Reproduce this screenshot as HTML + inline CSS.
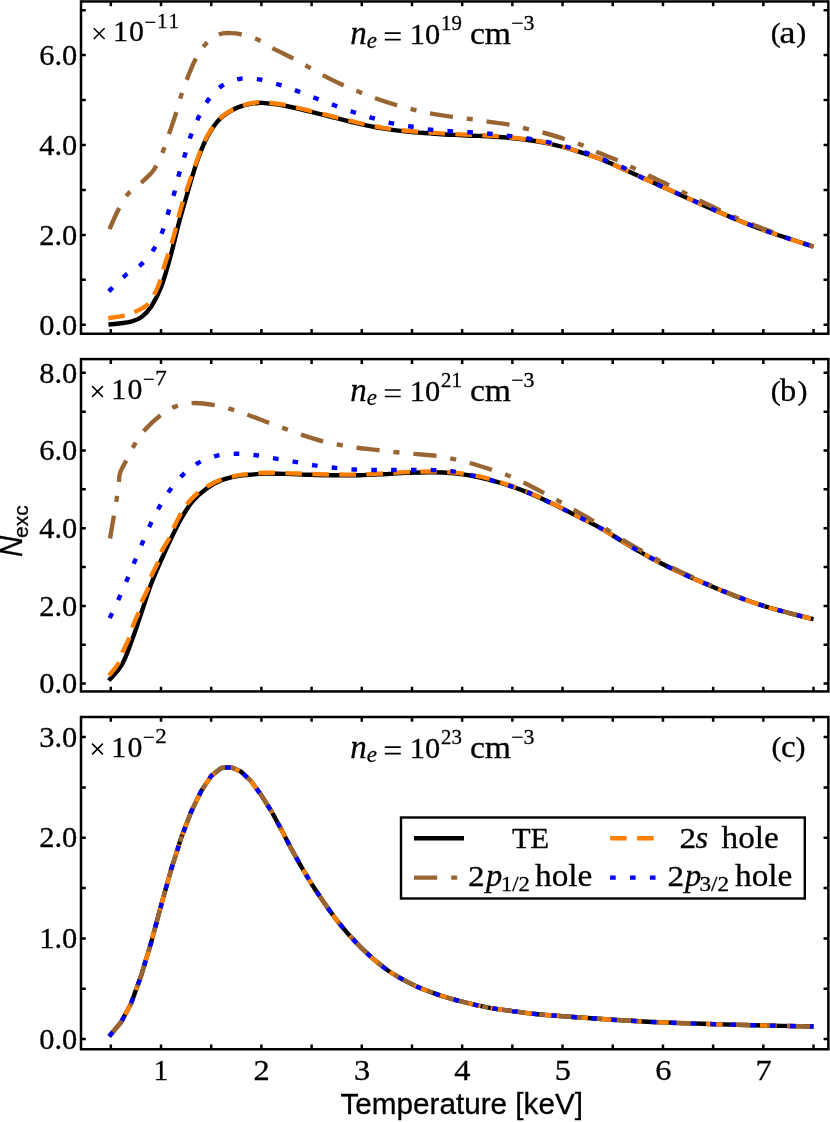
<!DOCTYPE html>
<html><head><meta charset="utf-8"><title>N_exc vs Temperature</title>
<style>html,body{margin:0;padding:0;background:#fff;overflow:hidden}svg{display:block;will-change:transform}text{font-family:"Liberation Serif",serif;fill:#000;stroke:#000;stroke-width:0.3px}.s{font-family:"Liberation Sans",sans-serif}.i{font-style:italic}</style></head><body>
<svg width="830" height="1122" viewBox="0 0 830 1122">
<rect x="0" y="0" width="830" height="1122" fill="#fff"/>
<g>
<path d="M108.41 324.48C110.47 324.28 117.05 323.78 120.80 323.30C124.55 322.82 127.50 322.62 130.90 321.60C134.30 320.58 137.80 319.72 141.20 317.20C144.60 314.68 147.93 311.65 151.30 306.50C154.67 301.35 158.15 294.85 161.40 286.30C164.65 277.75 167.90 265.68 170.80 255.20C173.70 244.72 176.22 233.10 178.80 223.40C181.38 213.70 183.85 205.52 186.30 197.00C188.75 188.48 191.18 179.63 193.50 172.30C195.82 164.97 197.79 159.10 200.20 153.00C202.61 146.90 204.73 141.32 207.95 135.70C211.17 130.08 215.01 123.80 219.50 119.30C223.99 114.80 229.75 111.27 234.90 108.70C240.05 106.13 246.22 104.87 250.40 103.90C254.58 102.93 257.65 103.03 260.00 102.90C262.35 102.77 260.55 102.67 264.50 103.10C268.45 103.53 276.08 104.08 283.70 105.50C291.32 106.92 301.77 109.58 310.20 111.60C318.63 113.62 326.27 115.60 334.30 117.60C342.33 119.60 350.37 121.80 358.40 123.60C366.43 125.40 374.47 127.07 382.50 128.40C390.53 129.73 398.57 130.77 406.60 131.60C414.63 132.43 422.78 132.85 430.70 133.40C438.62 133.95 446.18 134.48 454.10 134.90C462.02 135.32 470.17 135.50 478.20 135.90C486.23 136.30 494.27 136.65 502.30 137.30C510.33 137.95 518.37 138.70 526.40 139.80C534.43 140.90 542.47 142.13 550.50 143.90C558.53 145.67 566.57 148.00 574.60 150.40C582.63 152.80 592.80 156.18 598.70 158.30C604.60 160.42 603.70 160.30 610.00 163.10C616.30 165.90 627.67 171.12 636.50 175.10C645.33 179.08 654.17 183.03 663.00 187.00C671.83 190.97 680.67 194.93 689.50 198.90C698.33 202.87 707.17 206.95 716.00 210.80C724.83 214.65 733.67 218.47 742.50 222.00C751.33 225.53 760.17 228.87 769.00 232.00C777.83 235.13 788.08 238.37 795.50 240.80C802.92 243.23 810.50 245.63 813.50 246.60" fill="none" stroke="#000" stroke-width="4.40" stroke-linejoin="round"/>
<path d="M108.22 318.21C110.83 317.78 119.37 316.70 123.90 315.60C128.43 314.50 131.43 313.48 135.40 311.60C139.37 309.72 143.97 308.40 147.70 304.30C151.43 300.20 154.92 293.73 157.80 287.00C160.68 280.27 162.35 272.33 165.00 263.90C167.65 255.47 171.17 245.30 173.70 236.40C176.23 227.50 177.98 218.40 180.20 210.50C182.42 202.60 184.87 195.50 187.00 189.00C189.13 182.50 190.83 177.62 193.00 171.50C195.17 165.38 197.53 158.38 200.00 152.30C202.47 146.22 204.55 140.58 207.80 135.00C211.05 129.42 214.98 123.23 219.50 118.80C224.02 114.37 229.75 110.97 234.90 108.40C240.05 105.83 246.22 104.45 250.40 103.40C254.58 102.35 257.65 102.28 260.00 102.10C262.35 101.92 260.55 101.87 264.50 102.30C268.45 102.73 276.08 103.28 283.70 104.70C291.32 106.12 301.77 108.78 310.20 110.80C318.63 112.82 326.27 114.80 334.30 116.80C342.33 118.80 350.37 121.00 358.40 122.80C366.43 124.60 374.47 126.27 382.50 127.60C390.53 128.93 398.57 129.97 406.60 130.80C414.63 131.63 422.78 132.05 430.70 132.60C438.62 133.15 446.18 133.68 454.10 134.10C462.02 134.52 470.17 134.68 478.20 135.10C486.23 135.52 494.27 135.95 502.30 136.65C510.33 137.35 518.37 138.16 526.40 139.31C534.43 140.46 542.47 141.75 550.50 143.57C558.53 145.39 566.57 147.78 574.60 150.23C582.63 152.68 592.80 156.15 598.70 158.29C604.60 160.44 603.70 160.30 610.00 163.10C616.30 165.90 627.67 171.12 636.50 175.10C645.33 179.08 654.17 183.03 663.00 187.00C671.83 190.97 680.67 194.93 689.50 198.90C698.33 202.87 707.17 206.95 716.00 210.80C724.83 214.65 733.67 218.47 742.50 222.00C751.33 225.53 760.17 228.87 769.00 232.00C777.83 235.13 788.08 238.37 795.50 240.80C802.92 243.23 810.50 245.63 813.50 246.60" fill="none" stroke="#ff8000" stroke-width="4.40" stroke-linejoin="round" stroke-dasharray="16.6 10.4"/>
<path d="M109.46 229.13C111.02 225.76 115.69 214.79 118.80 208.90C121.91 203.01 124.35 198.18 128.10 193.80C131.85 189.42 137.47 186.02 141.30 182.60C145.13 179.18 148.67 175.98 151.10 173.30C153.53 170.62 153.88 170.27 155.90 166.50C157.92 162.73 161.02 156.10 163.20 150.70C165.38 145.30 166.85 140.40 169.00 134.10C171.15 127.80 174.10 119.28 176.10 112.90C178.10 106.52 179.23 101.32 181.00 95.80C182.77 90.28 184.30 85.85 186.70 79.80C189.10 73.75 192.33 65.35 195.40 59.50C198.47 53.65 201.23 48.87 205.10 44.70C208.97 40.53 214.27 36.43 218.60 34.50C222.93 32.57 227.25 33.10 231.10 33.10C234.95 33.10 237.28 33.43 241.70 34.50C246.12 35.57 252.40 37.18 257.60 39.50C262.80 41.82 266.93 45.22 272.90 48.40C278.87 51.58 287.67 55.62 293.40 58.60C299.13 61.58 302.48 63.58 307.30 66.30C312.12 69.02 316.38 71.77 322.30 74.90C328.22 78.03 336.70 82.28 342.80 85.10C348.90 87.92 353.48 89.60 358.90 91.80C364.32 94.00 369.03 96.08 375.30 98.30C381.57 100.52 390.15 103.22 396.50 105.10C402.85 106.98 407.78 108.22 413.40 109.60C419.02 110.98 423.62 112.18 430.20 113.40C436.78 114.62 446.30 115.97 452.90 116.90C459.50 117.83 464.18 118.25 469.80 119.00C475.42 119.75 480.07 120.47 486.60 121.40C493.13 122.33 502.45 123.38 509.00 124.60C515.55 125.82 520.27 127.38 525.90 128.70C531.53 130.02 536.37 130.78 542.80 132.50C549.23 134.22 558.20 136.98 564.50 139.00C570.80 141.02 575.30 142.47 580.60 144.60C585.90 146.73 590.15 149.20 596.30 151.80C602.45 154.40 611.33 157.52 617.50 160.20C623.67 162.88 628.15 165.33 633.30 167.90C638.45 170.47 642.48 172.77 648.40 175.60C654.32 178.43 662.70 181.98 668.80 184.90C674.90 187.82 679.80 190.45 685.00 193.10C690.20 195.75 694.17 197.93 700.00 200.80C705.83 203.67 713.88 207.43 720.00 210.30C726.12 213.17 731.18 215.57 736.70 218.00C742.22 220.43 747.18 222.57 753.10 224.90C759.02 227.23 766.45 229.82 772.20 232.00C777.95 234.18 780.72 235.57 787.60 238.00C794.48 240.43 809.18 245.17 813.50 246.60" fill="none" stroke="#996633" stroke-width="4.40" stroke-linejoin="round" stroke-dasharray="23.2 13.95 6 13.95"/>
<path d="M108.79 291.34C111.54 288.69 119.85 279.94 125.30 275.40C130.75 270.86 136.73 268.48 141.50 264.10C146.27 259.72 150.40 254.57 153.90 249.10C157.40 243.63 160.08 237.47 162.50 231.30C164.92 225.13 166.45 218.42 168.40 212.10C170.35 205.78 172.43 199.72 174.20 193.40C175.97 187.08 177.23 180.55 179.00 174.20C180.77 167.85 182.87 161.63 184.80 155.30C186.73 148.97 188.35 142.43 190.60 136.20C192.85 129.97 195.41 123.87 198.30 117.90C201.19 111.93 204.10 105.70 207.95 100.40C211.80 95.10 216.09 89.70 221.40 86.10C226.71 82.50 233.53 79.92 239.80 78.80C246.07 77.68 252.48 78.43 259.00 79.40C265.52 80.37 272.48 82.65 278.90 84.60C285.32 86.55 291.35 88.82 297.50 91.10C303.65 93.38 309.67 95.93 315.80 98.30C321.93 100.67 328.08 103.02 334.30 105.30C340.52 107.58 346.87 109.92 353.10 112.00C359.33 114.08 365.38 115.95 371.70 117.80C378.02 119.65 384.50 121.65 391.00 123.10C397.50 124.55 404.17 125.42 410.70 126.50C417.23 127.58 423.68 128.82 430.20 129.60C436.72 130.38 443.20 130.75 449.80 131.20C456.40 131.65 463.18 131.88 469.80 132.30C476.42 132.72 482.97 133.10 489.50 133.70C496.03 134.30 502.45 135.08 509.00 135.90C515.55 136.72 522.30 137.55 528.80 138.60C535.30 139.65 541.58 140.80 548.00 142.20C554.42 143.60 560.95 145.23 567.30 147.00C573.65 148.77 579.87 150.63 586.10 152.80C592.33 154.97 598.38 157.47 604.70 160.00C611.02 162.53 618.70 165.48 624.00 168.00C629.30 170.52 630.00 171.93 636.50 175.10C643.00 178.27 654.17 183.03 663.00 187.00C671.83 190.97 680.67 194.93 689.50 198.90C698.33 202.87 707.17 206.95 716.00 210.80C724.83 214.65 733.67 218.47 742.50 222.00C751.33 225.53 760.17 228.87 769.00 232.00C777.83 235.13 788.08 238.37 795.50 240.80C802.92 243.23 810.50 245.63 813.50 246.60" fill="none" stroke="#0000ff" stroke-width="4.40" stroke-linejoin="round" stroke-dasharray="5.6 14.24"/>
<path d="M108.79 680.64C110.99 677.95 118.06 671.44 122.00 664.50C125.94 657.56 129.02 648.08 132.40 639.00C135.78 629.92 139.12 619.33 142.30 610.00C145.48 600.67 148.23 591.58 151.50 583.00C154.77 574.42 158.60 565.98 161.90 558.50C165.20 551.02 168.12 544.72 171.30 538.10C174.48 531.48 177.47 524.92 181.00 518.80C184.53 512.68 188.33 506.38 192.50 501.40C196.67 496.42 201.18 492.43 206.00 488.90C210.82 485.37 215.93 482.38 221.40 480.20C226.87 478.02 234.03 476.70 238.80 475.80C243.57 474.90 245.72 475.17 250.00 474.80C254.28 474.43 258.48 473.75 264.50 473.60C270.52 473.45 278.48 473.70 286.10 473.90C293.72 474.10 302.17 474.57 310.20 474.80C318.23 475.03 326.27 475.22 334.30 475.30C342.33 475.38 350.37 475.47 358.40 475.30C366.43 475.13 374.47 474.70 382.50 474.30C390.53 473.90 398.57 473.23 406.60 472.90C414.63 472.57 422.78 472.22 430.70 472.30C438.62 472.38 446.18 472.62 454.10 473.40C462.02 474.18 470.17 475.32 478.20 477.00C486.23 478.68 494.27 481.02 502.30 483.50C510.33 485.98 518.37 488.68 526.40 491.90C534.43 495.12 542.47 498.98 550.50 502.80C558.53 506.62 566.57 510.75 574.60 514.80C582.63 518.85 592.47 523.73 598.70 527.10C604.93 530.47 605.70 531.22 612.00 535.00C618.30 538.78 628.00 544.92 636.50 549.80C645.00 554.68 654.17 559.80 663.00 564.30C671.83 568.80 680.67 572.82 689.50 576.80C698.33 580.78 707.17 584.53 716.00 588.20C724.83 591.87 733.67 595.58 742.50 598.80C751.33 602.02 760.17 604.85 769.00 607.50C777.83 610.15 788.08 612.75 795.50 614.70C802.92 616.65 810.50 618.45 813.50 619.20" fill="none" stroke="#000" stroke-width="4.40" stroke-linejoin="round"/>
<path d="M109.00 675.60C110.60 673.50 116.27 667.05 118.60 663.00C120.93 658.95 121.20 655.55 123.00 651.30C124.80 647.05 127.77 641.67 129.40 637.50C131.03 633.33 131.25 630.53 132.80 626.30C134.35 622.07 137.13 616.35 138.70 612.10C140.27 607.85 140.65 604.73 142.20 600.80C143.75 596.87 146.45 592.72 148.00 588.50C149.55 584.28 149.78 579.95 151.50 575.50C153.22 571.05 156.53 565.97 158.30 561.80C160.07 557.63 160.20 554.53 162.10 550.50C164.00 546.47 167.68 541.60 169.70 537.60C171.72 533.60 171.68 531.57 174.20 526.50C176.72 521.43 181.17 512.53 184.80 507.20C188.43 501.87 192.13 498.03 196.00 494.50C199.87 490.97 203.77 488.52 208.00 486.00C212.23 483.48 216.27 481.20 221.40 479.40C226.53 477.60 234.03 476.10 238.80 475.20C243.57 474.30 245.72 474.40 250.00 474.00C254.28 473.60 258.48 472.95 264.50 472.80C270.52 472.65 278.48 472.90 286.10 473.10C293.72 473.30 302.17 473.77 310.20 474.00C318.23 474.23 326.27 474.42 334.30 474.50C342.33 474.58 350.37 474.67 358.40 474.50C366.43 474.33 374.47 473.90 382.50 473.50C390.53 473.10 398.57 472.43 406.60 472.10C414.63 471.77 422.78 471.42 430.70 471.50C438.62 471.58 446.18 471.82 454.10 472.60C462.02 473.38 470.17 474.49 478.20 476.20C486.23 477.91 494.27 480.31 502.30 482.85C510.33 485.38 518.37 488.14 526.40 491.41C534.43 494.68 542.47 498.60 550.50 502.47C558.53 506.34 566.57 510.53 574.60 514.63C582.63 518.73 592.47 523.70 598.70 527.09C604.93 530.49 605.70 531.22 612.00 535.00C618.30 538.78 628.00 544.92 636.50 549.80C645.00 554.68 654.17 559.80 663.00 564.30C671.83 568.80 680.67 572.82 689.50 576.80C698.33 580.78 707.17 584.53 716.00 588.20C724.83 591.87 733.67 595.58 742.50 598.80C751.33 602.02 760.17 604.85 769.00 607.50C777.83 610.15 788.08 612.75 795.50 614.70C802.92 616.65 810.50 618.45 813.50 619.20" fill="none" stroke="#ff8000" stroke-width="4.40" stroke-linejoin="round" stroke-dasharray="16.6 10.4"/>
<path d="M110.00 538.50C110.65 534.73 112.77 522.65 113.90 515.90C115.03 509.15 115.97 503.78 116.80 498.00C117.63 492.22 118.33 485.45 118.90 481.20C119.47 476.95 119.02 475.87 120.20 472.50C121.38 469.13 123.65 465.55 126.00 461.00C128.35 456.45 131.25 450.28 134.30 445.20C137.35 440.12 139.90 435.52 144.30 430.50C148.70 425.48 155.55 419.08 160.70 415.10C165.85 411.12 169.90 408.60 175.20 406.60C180.50 404.60 185.92 403.35 192.50 403.10C199.08 402.85 208.20 404.07 214.70 405.10C221.20 406.13 226.03 407.70 231.50 409.30C236.97 410.90 241.40 412.50 247.50 414.70C253.60 416.90 261.87 420.18 268.10 422.50C274.33 424.82 279.40 426.58 284.90 428.60C290.40 430.62 294.75 432.48 301.10 434.60C307.45 436.72 316.58 439.58 323.00 441.30C329.42 443.02 333.98 443.82 339.60 444.90C345.22 445.98 350.03 446.92 356.70 447.80C363.37 448.68 373.00 449.47 379.60 450.20C386.20 450.93 390.58 451.58 396.30 452.20C402.02 452.82 407.17 453.28 413.90 453.90C420.63 454.52 430.20 455.07 436.70 455.90C443.20 456.73 447.38 457.72 452.90 458.90C458.42 460.08 463.30 461.18 469.80 463.00C476.30 464.82 485.60 467.75 491.90 469.80C498.20 471.85 502.33 473.18 507.60 475.30C512.87 477.42 517.55 479.60 523.50 482.50C529.45 485.40 537.40 489.60 543.30 492.70C549.20 495.80 553.77 498.22 558.90 501.10C564.03 503.98 568.35 506.67 574.10 510.00C579.85 513.33 587.78 517.77 593.40 521.10C599.02 524.43 602.98 526.92 607.80 530.00C612.62 533.08 617.52 536.63 622.30 539.60C627.08 542.57 629.72 543.93 636.50 547.80C643.28 551.67 654.17 558.13 663.00 562.80C671.83 567.47 680.67 571.67 689.50 575.80C698.33 579.93 707.17 583.83 716.00 587.60C724.83 591.37 733.67 595.12 742.50 598.40C751.33 601.68 760.17 604.58 769.00 607.30C777.83 610.02 788.08 612.72 795.50 614.70C802.92 616.68 810.50 618.45 813.50 619.20" fill="none" stroke="#996633" stroke-width="4.40" stroke-linejoin="round" stroke-dasharray="23.2 14 6 14"/>
<path d="M109.72 618.14C111.33 614.68 116.47 603.89 119.40 597.40C122.33 590.91 124.73 585.25 127.30 579.20C129.87 573.15 132.28 567.15 134.80 561.10C137.32 555.05 139.78 549.05 142.40 542.90C145.02 536.75 147.67 530.22 150.50 524.20C153.33 518.18 156.18 512.45 159.40 506.80C162.62 501.15 165.88 495.63 169.80 490.30C173.72 484.97 178.15 479.37 182.90 474.80C187.65 470.23 192.68 466.07 198.30 462.90C203.92 459.73 210.23 457.32 216.60 455.80C222.97 454.28 229.92 453.90 236.50 453.80C243.08 453.70 249.55 454.38 256.10 455.20C262.65 456.02 269.30 457.60 275.80 458.70C282.30 459.80 288.63 460.68 295.10 461.80C301.57 462.92 308.07 464.40 314.60 465.40C321.13 466.40 327.72 467.12 334.30 467.80C340.88 468.48 347.50 469.13 354.10 469.50C360.70 469.87 367.32 469.92 373.90 470.00C380.48 470.08 387.02 470.00 393.60 470.00C400.18 470.00 406.80 469.98 413.40 470.00C420.00 470.02 426.62 469.87 433.20 470.10C439.78 470.33 445.40 470.25 452.90 471.40C460.40 472.55 469.97 474.98 478.20 477.00C486.43 479.02 494.27 481.02 502.30 483.50C510.33 485.98 518.37 488.68 526.40 491.90C534.43 495.12 542.47 498.98 550.50 502.80C558.53 506.62 566.57 510.75 574.60 514.80C582.63 518.85 592.47 523.73 598.70 527.10C604.93 530.47 605.70 531.22 612.00 535.00C618.30 538.78 628.00 544.92 636.50 549.80C645.00 554.68 654.17 559.80 663.00 564.30C671.83 568.80 680.67 572.82 689.50 576.80C698.33 580.78 707.17 584.53 716.00 588.20C724.83 591.87 733.67 595.58 742.50 598.80C751.33 602.02 760.17 604.85 769.00 607.50C777.83 610.15 788.08 612.75 795.50 614.70C802.92 616.65 810.50 618.45 813.50 619.20" fill="none" stroke="#0000ff" stroke-width="4.40" stroke-linejoin="round" stroke-dasharray="5.6 14.23"/>
<path d="M109.19 1036.31L120.84 1022.50L130.88 1004.00L140.92 976.30L150.96 943.20L161.00 905.80L171.04 869.90L181.08 838.10L191.12 811.90L201.16 791.10L211.19 775.90L221.23 768.00L231.27 767.30L241.31 771.80L251.35 781.50L261.39 795.30L271.43 811.30L281.47 829.80L291.51 849.20L301.55 867.10L311.59 884.00C317.44 892.83 328.32 909.37 336.68 920.10C345.05 930.83 353.41 940.13 361.78 948.40C370.15 956.67 378.51 963.73 386.88 969.70C395.24 975.67 403.61 980.10 411.98 984.20C420.34 988.30 428.71 991.38 437.07 994.30C445.44 997.22 453.80 999.52 462.17 1001.70C470.54 1003.88 478.90 1005.83 487.27 1007.40C495.63 1008.97 504.00 1009.97 512.37 1011.10C520.73 1012.23 529.10 1013.35 537.46 1014.20C545.83 1015.05 550.01 1015.28 562.56 1016.20C575.11 1017.12 596.02 1018.67 612.75 1019.70C629.49 1020.73 646.22 1021.67 662.95 1022.40C679.68 1023.13 696.41 1023.58 713.14 1024.10C729.88 1024.62 746.61 1025.10 763.34 1025.50C780.07 1025.90 805.17 1026.33 813.53 1026.50" fill="none" stroke="#000" stroke-width="4.40" stroke-linejoin="round"/>
<path d="M109.19 1036.31L120.84 1022.50L130.88 1004.00L140.92 976.30L150.96 943.20L161.00 905.80L171.04 869.90L181.08 838.10L191.12 811.90L201.16 791.10L211.19 775.90L221.23 768.00L231.27 767.30L241.31 771.80L251.35 781.50L261.39 795.30L271.43 811.30L281.47 829.80L291.51 849.20L301.55 867.10L311.59 884.00C317.44 892.83 328.32 909.37 336.68 920.10C345.05 930.83 353.41 940.13 361.78 948.40C370.15 956.67 378.51 963.73 386.88 969.70C395.24 975.67 403.61 980.10 411.98 984.20C420.34 988.30 428.71 991.38 437.07 994.30C445.44 997.22 453.80 999.52 462.17 1001.70C470.54 1003.88 478.90 1005.83 487.27 1007.40C495.63 1008.97 504.00 1009.97 512.37 1011.10C520.73 1012.23 529.10 1013.35 537.46 1014.20C545.83 1015.05 550.01 1015.28 562.56 1016.20C575.11 1017.12 596.02 1018.67 612.75 1019.70C629.49 1020.73 646.22 1021.67 662.95 1022.40C679.68 1023.13 696.41 1023.58 713.14 1024.10C729.88 1024.62 746.61 1025.10 763.34 1025.50C780.07 1025.90 805.17 1026.33 813.53 1026.50" fill="none" stroke="#ff8000" stroke-width="4.40" stroke-linejoin="round" stroke-dasharray="16.6 10.4"/>
<path d="M109.19 1036.31L120.84 1022.50L130.88 1004.00L140.92 976.30L150.96 943.20L161.00 905.80L171.04 869.90L181.08 838.10L191.12 811.90L201.16 791.10L211.19 775.90L221.23 768.00L231.27 767.30L241.31 771.80L251.35 781.50L261.39 795.30L271.43 811.30L281.47 829.80L291.51 849.20L301.55 867.10L311.59 884.00C317.44 892.83 328.32 909.37 336.68 920.10C345.05 930.83 353.41 940.13 361.78 948.40C370.15 956.67 378.51 963.73 386.88 969.70C395.24 975.67 403.61 980.10 411.98 984.20C420.34 988.30 428.71 991.38 437.07 994.30C445.44 997.22 453.80 999.52 462.17 1001.70C470.54 1003.88 478.90 1005.83 487.27 1007.40C495.63 1008.97 504.00 1009.97 512.37 1011.10C520.73 1012.23 529.10 1013.35 537.46 1014.20C545.83 1015.05 550.01 1015.28 562.56 1016.20C575.11 1017.12 596.02 1018.67 612.75 1019.70C629.49 1020.73 646.22 1021.67 662.95 1022.40C679.68 1023.13 696.41 1023.58 713.14 1024.10C729.88 1024.62 746.61 1025.10 763.34 1025.50C780.07 1025.90 805.17 1026.33 813.53 1026.50" fill="none" stroke="#996633" stroke-width="4.40" stroke-linejoin="round" stroke-dasharray="23.2 14 6 14"/>
<path d="M109.19 1036.31L120.84 1022.50L130.88 1004.00L140.92 976.30L150.96 943.20L161.00 905.80L171.04 869.90L181.08 838.10L191.12 811.90L201.16 791.10L211.19 775.90L221.23 768.00L231.27 767.30L241.31 771.80L251.35 781.50L261.39 795.30L271.43 811.30L281.47 829.80L291.51 849.20L301.55 867.10L311.59 884.00C317.44 892.83 328.32 909.37 336.68 920.10C345.05 930.83 353.41 940.13 361.78 948.40C370.15 956.67 378.51 963.73 386.88 969.70C395.24 975.67 403.61 980.10 411.98 984.20C420.34 988.30 428.71 991.38 437.07 994.30C445.44 997.22 453.80 999.52 462.17 1001.70C470.54 1003.88 478.90 1005.83 487.27 1007.40C495.63 1008.97 504.00 1009.97 512.37 1011.10C520.73 1012.23 529.10 1013.35 537.46 1014.20C545.83 1015.05 550.01 1015.28 562.56 1016.20C575.11 1017.12 596.02 1018.67 612.75 1019.70C629.49 1020.73 646.22 1021.67 662.95 1022.40C679.68 1023.13 696.41 1023.58 713.14 1024.10C729.88 1024.62 746.61 1025.10 763.34 1025.50C780.07 1025.90 805.17 1026.33 813.53 1026.50" fill="none" stroke="#0000ff" stroke-width="4.40" stroke-linejoin="round" stroke-dasharray="5.6 14.3"/>
</g>
<g stroke="#000" stroke-width="2.50" fill="none">
<rect x="81.00" y="1.45" width="747.35" height="332.30"/>
<path d="M110.81 333.75v-4.80M110.81 1.45v4.80M161.00 333.75v-4.80M161.00 1.45v4.80M211.19 333.75v-4.80M211.19 1.45v4.80M261.39 333.75v-4.80M261.39 1.45v4.80M311.59 333.75v-4.80M311.59 1.45v4.80M361.78 333.75v-4.80M361.78 1.45v4.80M411.98 333.75v-4.80M411.98 1.45v4.80M462.17 333.75v-4.80M462.17 1.45v4.80M512.37 333.75v-4.80M512.37 1.45v4.80M562.56 333.75v-4.80M562.56 1.45v4.80M612.75 333.75v-4.80M612.75 1.45v4.80M662.95 333.75v-4.80M662.95 1.45v4.80M713.14 333.75v-4.80M713.14 1.45v4.80M763.34 333.75v-4.80M763.34 1.45v4.80M813.53 333.75v-4.80M813.53 1.45v4.80M81.00 324.80h4.80M828.35 324.80h-4.80M81.00 234.90h4.80M828.35 234.90h-4.80M81.00 145.00h4.80M828.35 145.00h-4.80M81.00 55.10h4.80M828.35 55.10h-4.80M81.00 279.85h4.80M828.35 279.85h-4.80M81.00 189.95h4.80M828.35 189.95h-4.80M81.00 100.05h4.80M828.35 100.05h-4.80M81.00 10.15h4.80M828.35 10.15h-4.80"/>
<rect x="81.00" y="359.10" width="747.35" height="332.35"/>
<path d="M110.81 691.45v-4.80M110.81 359.10v4.80M161.00 691.45v-4.80M161.00 359.10v4.80M211.19 691.45v-4.80M211.19 359.10v4.80M261.39 691.45v-4.80M261.39 359.10v4.80M311.59 691.45v-4.80M311.59 359.10v4.80M361.78 691.45v-4.80M361.78 359.10v4.80M411.98 691.45v-4.80M411.98 359.10v4.80M462.17 691.45v-4.80M462.17 359.10v4.80M512.37 691.45v-4.80M512.37 359.10v4.80M562.56 691.45v-4.80M562.56 359.10v4.80M612.75 691.45v-4.80M612.75 359.10v4.80M662.95 691.45v-4.80M662.95 359.10v4.80M713.14 691.45v-4.80M713.14 359.10v4.80M763.34 691.45v-4.80M763.34 359.10v4.80M813.53 691.45v-4.80M813.53 359.10v4.80M81.00 683.60h4.80M828.35 683.60h-4.80M81.00 605.90h4.80M828.35 605.90h-4.80M81.00 528.20h4.80M828.35 528.20h-4.80M81.00 450.50h4.80M828.35 450.50h-4.80M81.00 372.80h4.80M828.35 372.80h-4.80M81.00 644.75h4.80M828.35 644.75h-4.80M81.00 567.05h4.80M828.35 567.05h-4.80M81.00 489.35h4.80M828.35 489.35h-4.80M81.00 411.65h4.80M828.35 411.65h-4.80"/>
<rect x="81.00" y="717.00" width="747.35" height="332.25"/>
<path d="M110.81 1049.25v-4.80M110.81 717.00v4.80M161.00 1049.25v-4.80M161.00 717.00v4.80M211.19 1049.25v-4.80M211.19 717.00v4.80M261.39 1049.25v-4.80M261.39 717.00v4.80M311.59 1049.25v-4.80M311.59 717.00v4.80M361.78 1049.25v-4.80M361.78 717.00v4.80M411.98 1049.25v-4.80M411.98 717.00v4.80M462.17 1049.25v-4.80M462.17 717.00v4.80M512.37 1049.25v-4.80M512.37 717.00v4.80M562.56 1049.25v-4.80M562.56 717.00v4.80M612.75 1049.25v-4.80M612.75 717.00v4.80M662.95 1049.25v-4.80M662.95 717.00v4.80M713.14 1049.25v-4.80M713.14 717.00v4.80M763.34 1049.25v-4.80M763.34 717.00v4.80M813.53 1049.25v-4.80M813.53 717.00v4.80M81.00 1039.10h4.80M828.35 1039.10h-4.80M81.00 938.42h4.80M828.35 938.42h-4.80M81.00 837.74h4.80M828.35 837.74h-4.80M81.00 737.06h4.80M828.35 737.06h-4.80M81.00 988.76h4.80M828.35 988.76h-4.80M81.00 888.08h4.80M828.35 888.08h-4.80M81.00 787.40h4.80M828.35 787.40h-4.80"/>
</g>
<g font-size="30.0" text-anchor="end">
<text x="77.3" y="334.50" textLength="38.0" lengthAdjust="spacingAndGlyphs">0.0</text>
<text x="77.3" y="244.60" textLength="38.0" lengthAdjust="spacingAndGlyphs">2.0</text>
<text x="77.3" y="154.70" textLength="38.0" lengthAdjust="spacingAndGlyphs">4.0</text>
<text x="77.3" y="64.80" textLength="38.0" lengthAdjust="spacingAndGlyphs">6.0</text>
<text x="77.3" y="693.30" textLength="38.0" lengthAdjust="spacingAndGlyphs">0.0</text>
<text x="77.3" y="615.60" textLength="38.0" lengthAdjust="spacingAndGlyphs">2.0</text>
<text x="77.3" y="537.90" textLength="38.0" lengthAdjust="spacingAndGlyphs">4.0</text>
<text x="77.3" y="460.20" textLength="38.0" lengthAdjust="spacingAndGlyphs">6.0</text>
<text x="77.3" y="382.50" textLength="38.0" lengthAdjust="spacingAndGlyphs">8.0</text>
<text x="77.3" y="1048.80" textLength="38.0" lengthAdjust="spacingAndGlyphs">0.0</text>
<text x="77.3" y="948.12" textLength="38.0" lengthAdjust="spacingAndGlyphs">1.0</text>
<text x="77.3" y="847.44" textLength="38.0" lengthAdjust="spacingAndGlyphs">2.0</text>
<text x="77.3" y="746.76" textLength="38.0" lengthAdjust="spacingAndGlyphs">3.0</text>
</g>
<g font-size="29.3" text-anchor="middle">
<text x="160.80" y="1079.7">1</text>
<text x="261.69" y="1079.7" textLength="16.2" lengthAdjust="spacingAndGlyphs">2</text>
<text x="362.08" y="1079.7" textLength="16.2" lengthAdjust="spacingAndGlyphs">3</text>
<text x="462.47" y="1079.7" textLength="16.2" lengthAdjust="spacingAndGlyphs">4</text>
<text x="562.86" y="1079.7" textLength="16.2" lengthAdjust="spacingAndGlyphs">5</text>
<text x="663.25" y="1079.7" textLength="16.2" lengthAdjust="spacingAndGlyphs">6</text>
<text x="763.64" y="1079.7" textLength="16.2" lengthAdjust="spacingAndGlyphs">7</text>
</g>
<text class="s" font-size="29.7" text-anchor="middle" x="461.7" y="1114.1">Temperature [keV]</text>
<g transform="translate(21.9 532) rotate(-90)"><text class="s i" font-size="30.9" transform="translate(-25.0 0) scale(0.95 1)" x="0" y="0">N</text><text class="s" font-size="21" x="-6.0" y="5.7">exc</text></g>
<g><path d="M93.80 28.20l10.8 10.8M93.80 39.00l10.8 -10.8" stroke="#000" stroke-width="1.5" fill="none"/><text font-size="29.80" x="112.90" y="41.10">1</text><text font-size="29.80" x="129.10" y="41.10">0</text><text font-size="20.50" x="144.60" y="29.30">−</text><text font-size="21.00" x="157.00" y="28.10">1</text><text font-size="21.00" x="168.40" y="28.10">1</text></g>
<g><path d="M92.10 386.10l10.8 10.8M92.10 396.90l10.8 -10.8" stroke="#000" stroke-width="1.5" fill="none"/><text font-size="29.80" x="111.20" y="399.00">1</text><text font-size="29.80" x="127.40" y="399.00">0</text><text font-size="20.50" x="142.90" y="386.30">−</text><text font-size="21.00" x="155.30" y="385.10" textLength="11.50" lengthAdjust="spacingAndGlyphs">7</text></g>
<g><path d="M92.10 743.60l10.8 10.8M92.10 754.40l10.8 -10.8" stroke="#000" stroke-width="1.5" fill="none"/><text font-size="29.80" x="111.20" y="756.50">1</text><text font-size="29.80" x="127.40" y="756.50">0</text><text font-size="20.50" x="142.90" y="743.80">−</text><text font-size="21.00" x="155.30" y="742.60" textLength="11.50" lengthAdjust="spacingAndGlyphs">2</text></g>
<g><text font-size="33.00" x="350.20" y="43.70" class="i">n</text><text font-size="23.00" x="366.80" y="48.30" class="i">e</text><path d="M384.8 33.20h15.9M384.8 39.70h15.9" stroke="#000" stroke-width="1.7" fill="none"/><text font-size="29.80" x="409.80" y="43.70" textLength="30.40" lengthAdjust="spacingAndGlyphs">10</text><text font-size="20.80" x="441.00" y="29.90">19</text><text font-size="32.50" x="469.90" y="43.70" textLength="41.20" lengthAdjust="spacingAndGlyphs">cm</text><text font-size="20.80" x="511.20" y="29.90" textLength="23.20" lengthAdjust="spacingAndGlyphs">−3</text></g>
<g><text font-size="33.00" x="350.20" y="400.50" class="i">n</text><text font-size="23.00" x="366.80" y="405.10" class="i">e</text><path d="M384.8 390.00h15.9M384.8 396.50h15.9" stroke="#000" stroke-width="1.7" fill="none"/><text font-size="29.80" x="409.80" y="400.50" textLength="30.40" lengthAdjust="spacingAndGlyphs">10</text><text font-size="20.80" x="441.00" y="386.70">21</text><text font-size="32.50" x="469.90" y="400.50" textLength="41.20" lengthAdjust="spacingAndGlyphs">cm</text><text font-size="20.80" x="511.20" y="386.70" textLength="23.20" lengthAdjust="spacingAndGlyphs">−3</text></g>
<g><text font-size="33.00" x="350.20" y="757.70" class="i">n</text><text font-size="23.00" x="366.80" y="762.30" class="i">e</text><path d="M384.8 747.20h15.9M384.8 753.70h15.9" stroke="#000" stroke-width="1.7" fill="none"/><text font-size="29.80" x="409.80" y="757.70" textLength="30.40" lengthAdjust="spacingAndGlyphs">10</text><text font-size="20.80" x="441.00" y="743.90">23</text><text font-size="32.50" x="469.90" y="757.70" textLength="41.20" lengthAdjust="spacingAndGlyphs">cm</text><text font-size="20.80" x="511.20" y="743.90" textLength="23.20" lengthAdjust="spacingAndGlyphs">−3</text></g>
<text font-size="26.50" x="770.70" y="42.00" textLength="10.00" lengthAdjust="spacingAndGlyphs">(</text><text font-size="32.50" x="779.60" y="42.80" textLength="16.00" lengthAdjust="spacingAndGlyphs">a</text><text font-size="26.50" x="796.20" y="42.00" textLength="10.00" lengthAdjust="spacingAndGlyphs">)</text>
<text font-size="26.50" x="770.80" y="399.70" textLength="10.00" lengthAdjust="spacingAndGlyphs">(</text><text font-size="32.50" x="779.90" y="400.50" textLength="16.20" lengthAdjust="spacingAndGlyphs">b</text><text font-size="26.50" x="797.50" y="399.70" textLength="10.00" lengthAdjust="spacingAndGlyphs">)</text>
<text font-size="26.50" x="771.60" y="756.30" textLength="10.00" lengthAdjust="spacingAndGlyphs">(</text><text font-size="32.50" x="780.90" y="757.10" textLength="14.60" lengthAdjust="spacingAndGlyphs">c</text><text font-size="26.50" x="795.40" y="756.30" textLength="10.00" lengthAdjust="spacingAndGlyphs">)</text>
<rect x="401.0" y="817.5" width="403.8" height="81.0" fill="#fff" stroke="#000" stroke-width="2.4"/>
<g fill="none" stroke-width="4.4">
<path d="M414 838.3h50" stroke="#000"/>
<path d="M610.1 838.3h50" stroke="#ff8000" stroke-dasharray="16.6 10.4"/>
<path d="M414 877.6h50" stroke="#996633" stroke-dasharray="23.2 14 6 14"/>
<path d="M610.1 877.6h50" stroke="#0000ff" stroke-dasharray="5.6 14.3"/>
</g>
<text font-size="29.50" x="511.90" y="847.70" textLength="37.20" lengthAdjust="spacingAndGlyphs">TE</text>
<text font-size="29.80" x="679.60" y="847.70" textLength="16.60" lengthAdjust="spacingAndGlyphs">2</text>
<text font-size="32.50" x="695.60" y="847.70" class="i">s</text>
<text font-size="32.50" x="721.50" y="847.70" textLength="57.40" lengthAdjust="spacingAndGlyphs">hole</text>
<text font-size="29.80" x="468.00" y="886.10" textLength="16.60" lengthAdjust="spacingAndGlyphs">2</text>
<text font-size="32.50" x="485.90" y="886.10" class="i">p</text>
<text font-size="20.80" x="500.90" y="890.60" textLength="29.00" lengthAdjust="spacingAndGlyphs">1/2</text>
<text font-size="32.50" x="535.00" y="886.10" textLength="57.40" lengthAdjust="spacingAndGlyphs">hole</text>
<text font-size="29.80" x="667.40" y="886.10" textLength="16.60" lengthAdjust="spacingAndGlyphs">2</text>
<text font-size="32.50" x="685.00" y="886.10" class="i">p</text>
<text font-size="20.80" x="699.50" y="890.60" textLength="29.60" lengthAdjust="spacingAndGlyphs">3/2</text>
<text font-size="32.50" x="735.00" y="886.10" textLength="57.40" lengthAdjust="spacingAndGlyphs">hole</text>
</svg></body></html>
